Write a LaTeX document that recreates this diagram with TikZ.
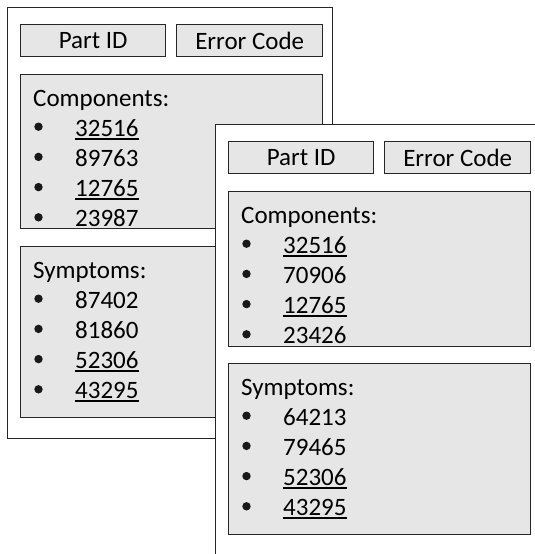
\documentclass[tikz,border=0pt]{standalone}
\usepackage{fontspec}
\setmainfont{Carlito}
\usetikzlibrary{calc}
\definecolor{boxgray}{RGB}{231,230,230}
\definecolor{edge}{RGB}{38,38,38}
% underlined number, rule just below the digits
\newcommand{\ulnum}[1]{\setbox0\hbox{#1}\rlap{\rule[-3.6pt]{\wd0}{1.8pt}}\box0}
\tikzset{
  card/.style={draw=edge,fill=white,line width=1.4pt,anchor=north west,inner sep=0pt,
    minimum width=325pt,minimum height=431pt},
  field/.style={draw=edge,fill=boxgray,line width=1.4pt,anchor=north west,inner sep=0pt,
    minimum height=32pt,font=\fontsize{25}{30}\selectfont},
  listbox/.style={draw=edge,fill=boxgray,line width=1.4pt,anchor=north west,inner sep=0pt,
    minimum width=302pt},
  txt/.style={anchor=base west,inner sep=0pt,font=\fontsize{25}{30}\selectfont},
  dot/.style={circle,fill=black!90,inner sep=0pt,minimum size=8.4pt},
}
\begin{document}
\begin{tikzpicture}[x=1pt,y=-1pt]
  \useasboundingbox (0,0) rectangle (535,554);
  \clip (0,0) rectangle (535,554);

  % card behind
  \begin{scope}
    \node[card] (card1) at (7,7) {};
    \node[field,minimum width=145pt] (pid1) at (20,24) {Part ID};
    \node[field,minimum width=146pt] (err1) at (176,24) {Error Code};
    \node[listbox,minimum height=154pt] (cmp1) at (20,74) {};
    \node[listbox,minimum height=171pt] (sym1) at (20,246) {};
    \node[txt] (cmph1) at ($(cmp1.north west)+(13,32)$) {Components:};
    \foreach \num [count=\k] in {\ulnum{32516},89763,\ulnum{12765},23987} {
      \node[dot] (cmpd1-\k) at ($(cmp1.north west)+(18.5,52.7+30.2*\k-30.2)$) {};
      \node[txt] (cmpn1-\k) at ($(cmp1.north west)+(55,62+30.2*\k-30.2)$) {\num};
    }
    \node[txt] (symh1) at ($(sym1.north west)+(13,32)$) {Symptoms:};
    \foreach \num [count=\k] in {87402,81860,\ulnum{52306},\ulnum{43295}} {
      \node[dot] (symd1-\k) at ($(sym1.north west)+(18.5,52.7+30.2*\k-30.2)$) {};
      \node[txt] (symn1-\k) at ($(sym1.north west)+(55,62+30.2*\k-30.2)$) {\num};
    }
  \end{scope}

  % card in front
  \begin{scope}[shift={(208,117)}]
    \node[card] (card2) at (7,7) {};
    \node[field,minimum width=145pt] (pid2) at (20,24) {Part ID};
    \node[field,minimum width=146pt] (err2) at (176,24) {Error Code};
    \node[listbox,minimum height=155pt] (cmp2) at (20,74) {};
    \node[listbox,minimum height=171pt] (sym2) at (20,246) {};
    \node[txt] (cmph2) at ($(cmp2.north west)+(13,32)$) {Components:};
    \foreach \num [count=\k] in {\ulnum{32516},70906,\ulnum{12765},23426} {
      \node[dot] (cmpd2-\k) at ($(cmp2.north west)+(18.5,52.7+30.2*\k-30.2)$) {};
      \node[txt] (cmpn2-\k) at ($(cmp2.north west)+(55,62+30.2*\k-30.2)$) {\num};
    }
    \node[txt] (symh2) at ($(sym2.north west)+(13,32)$) {Symptoms:};
    \foreach \num [count=\k] in {64213,79465,\ulnum{52306},\ulnum{43295}} {
      \node[dot] (symd2-\k) at ($(sym2.north west)+(18.5,52.7+30.2*\k-30.2)$) {};
      \node[txt] (symn2-\k) at ($(sym2.north west)+(55,62+30.2*\k-30.2)$) {\num};
    }
  \end{scope}
\end{tikzpicture}
\end{document}
